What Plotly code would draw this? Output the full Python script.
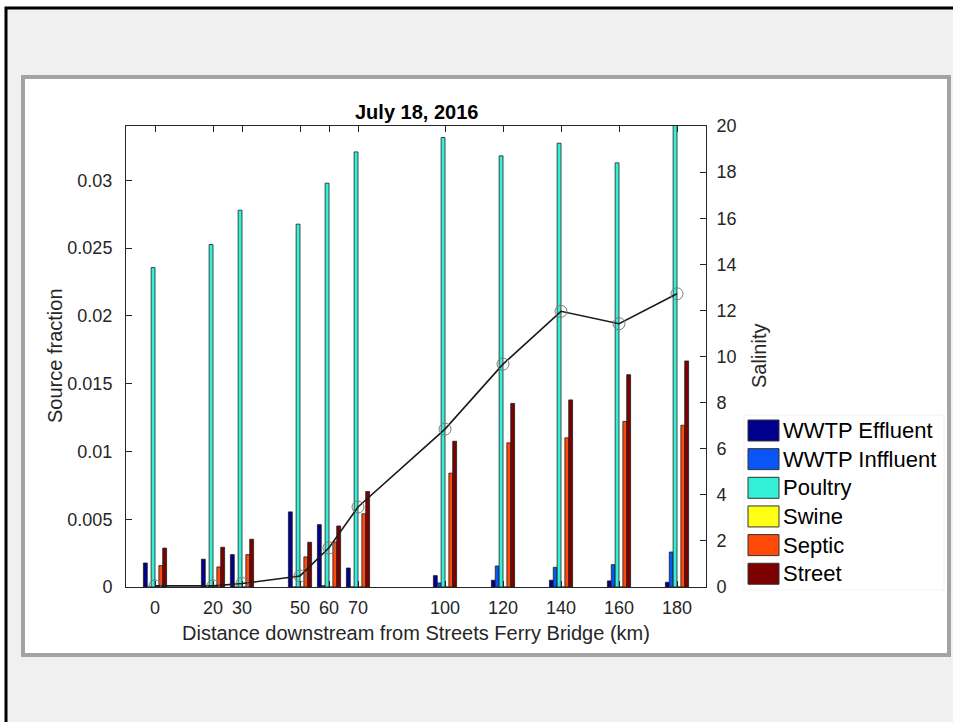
import plotly.graph_objects as go

# Sampling stations (km downstream of Streets Ferry Bridge)
distance = [0, 20, 30, 50, 60, 70, 100, 120, 140, 160, 180]
distance_labels = ["0", "20", "30", "50", "60", "70", "100", "120", "140", "160", "180"]

# Source fractions at each station
wwtp_effluent = [0.00177, 0.00205, 0.00239, 0.00554, 0.0046, 0.0014, 0.00084, 0.0005, 0.0005, 0.00045, 0.00035]
wwtp_influent = [0.0, 0.0, 0.0, 0.0, 0.0001, 0.0, 0.0003, 0.00155, 0.00145, 0.00165, 0.00258]
poultry = [0.02356, 0.02526, 0.02779, 0.02676, 0.02978, 0.03209, 0.03315, 0.0318, 0.03273, 0.03128, 0.0352]
swine = [0, 0, 0, 0, 0, 0, 0, 0, 0, 0, 0]
septic = [0.00158, 0.00148, 0.00239, 0.00222, 0.00332, 0.0054, 0.0084, 0.01063, 0.011, 0.01221, 0.01193]
street = [0.00287, 0.00293, 0.00352, 0.0033, 0.0045, 0.00704, 0.01075, 0.01354, 0.0138, 0.01566, 0.01667]

# Salinity along the river
salinity = [0.05, 0.05, 0.15, 0.48, 1.7, 3.47, 6.85, 9.67, 11.96, 11.42, 12.72]

series_names = ["WWTP Effluent", "WWTP Inffluent", "Poultry", "Swine", "Septic", "Street"]
series_values = [wwtp_effluent, wwtp_influent, poultry, swine, septic, street]
series_colors = ["#00008c", "#0a55f5", "#33f0d6", "#ffff14", "#ff4a0a", "#7d0000"]

left_ticks = [0, 0.005, 0.01, 0.015, 0.02, 0.025, 0.03]
left_tick_labels = ["0", "0.005", "0.01", "0.015", "0.02", "0.025", "0.03"]
right_ticks = [0, 2, 4, 6, 8, 10, 12, 14, 16, 18, 20]
right_tick_labels = [str(v) for v in right_ticks]

W, H = 953, 722
PL, PR, PT, PB = 126, 706, 126, 587  # plot area in pixels


def px(x):
    return (x - PL) / (PR - PL)


def py(y):
    return (PB - y) / (PB - PT)


FONT = "Arial, Liberation Sans, sans-serif"
AX = "#262626"
TICK_SIZE = 18

fig = go.Figure()

for name, vals, col in zip(series_names, series_values, series_colors):
    fig.add_trace(go.Bar(
        x=distance, y=vals, name=name,
        marker=dict(color=col, line=dict(color="#1e1e1e", width=0.8)),
        showlegend=False, yaxis="y",
    ))

fig.add_trace(go.Scatter(
    x=distance, y=salinity, yaxis="y2", mode="lines+markers",
    line=dict(color="#1a1a1a", width=1.6),
    marker=dict(symbol="circle-open", size=12, color="#7a7a7a", line=dict(width=1)),
    showlegend=False, name="Salinity",
))

shapes = [
    # figure window
    dict(type="rect", xref="paper", yref="paper", layer="below",
         x0=px(6), x1=px(990), y0=py(8), y1=py(760),
         fillcolor="#f0f0f0", line=dict(color="black", width=3)),
    # white panel
    dict(type="rect", xref="paper", yref="paper", layer="below",
         x0=px(23), x1=px(949), y0=py(77), y1=py(655),
         fillcolor="white", line=dict(color="#a3a3a3", width=4)),
]

annotations = [
    dict(text="<b>July 18, 2016</b>", xref="paper", yref="paper",
         x=0.5, y=py(112), xanchor="center", yanchor="middle",
         showarrow=False, font=dict(family=FONT, size=20, color="black")),
    dict(text="Source fraction", xref="paper", yref="paper",
         x=px(55), y=py(356), xanchor="center", yanchor="middle", textangle=-90,
         showarrow=False, font=dict(family=FONT, size=20, color=AX)),
    dict(text="Salinity", xref="paper", yref="paper",
         x=px(759), y=py(356), xanchor="center", yanchor="middle", textangle=-90,
         showarrow=False, font=dict(family=FONT, size=20, color=AX)),
    dict(text="Distance downstream from Streets Ferry Bridge (km)", xref="paper", yref="paper",
         x=0.5, y=py(633), xanchor="center", yanchor="middle",
         showarrow=False, font=dict(family=FONT, size=20, color=AX)),
]

# legend box
shapes.append(dict(type="rect", xref="paper", yref="paper",
                   x0=px(744), x1=px(944), y0=py(415), y1=py(590),
                   fillcolor="white", line=dict(color="#f2f2f2", width=1), layer="below"))
row0, row_step = 430.5, 28.65
for i, (name, col) in enumerate(zip(series_names, series_colors)):
    yc = row0 + i * row_step
    shapes.append(dict(type="rect", xref="paper", yref="paper",
                       x0=px(748), x1=px(779), y0=py(yc - 10.5), y1=py(yc + 10.5),
                       fillcolor=col, line=dict(color="#333333", width=1)))
    annotations.append(dict(text=name, xref="paper", yref="paper",
                            x=px(781), y=py(yc), xanchor="left", yanchor="middle",
                            showarrow=False, font=dict(family=FONT, size=22, color="black")))

fig.update_layout(
    width=W, height=H,
    margin=dict(l=PL, r=W - PR, t=PT, b=H - PB, pad=0),
    paper_bgcolor="white", plot_bgcolor="white",
    barmode="group", bargap=0.2, bargroupgap=0,
    font=dict(family=FONT, size=TICK_SIZE, color=AX),
    showlegend=False,
    shapes=shapes, annotations=annotations,
    xaxis=dict(
        range=[-10, 190], tickmode="array", tickvals=distance, ticktext=distance_labels,
        ticks="inside", ticklen=6, tickcolor=AX, showline=True, linecolor=AX, linewidth=1,
        mirror="ticks", showgrid=False, zeroline=False, ticklabelstandoff=4,
        tickfont=dict(family=FONT, size=TICK_SIZE, color=AX),
    ),
    yaxis=dict(
        range=[0, 0.034], tickmode="array", tickvals=left_ticks, ticktext=left_tick_labels,
        ticks="inside", ticklen=6, tickcolor=AX, showline=True, linecolor=AX, linewidth=1,
        showgrid=False, zeroline=False, ticklabelstandoff=9,
        tickfont=dict(family=FONT, size=TICK_SIZE, color=AX),
    ),
    yaxis2=dict(
        range=[0, 20], tickmode="array", tickvals=right_ticks, ticktext=right_tick_labels,
        overlaying="y", side="right",
        ticks="inside", ticklen=6, tickcolor=AX, showline=True, linecolor=AX, linewidth=1,
        showgrid=False, zeroline=False, ticklabelstandoff=6,
        tickfont=dict(family=FONT, size=TICK_SIZE, color=AX),
    ),
)

fig.write_html("out.html")
